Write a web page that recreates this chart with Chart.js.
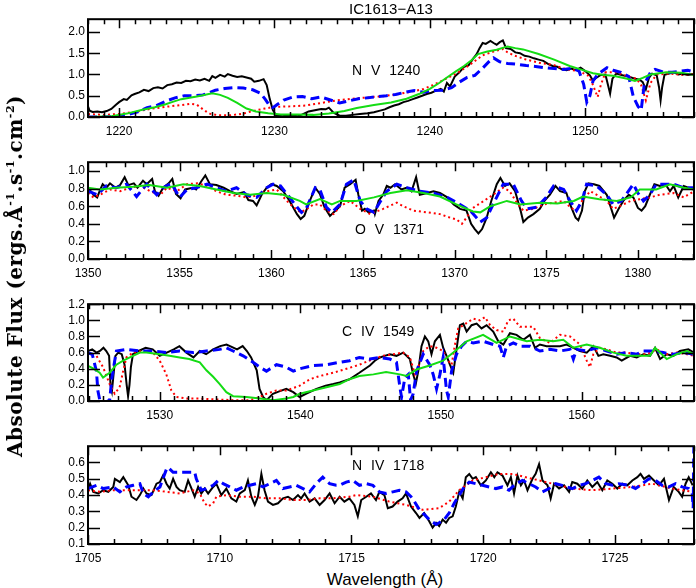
<!DOCTYPE html>
<html>
<head>
<meta charset="utf-8">
<script src="https://cdn.jsdelivr.net/npm/chart.js"></script>
<style>
  body { margin: 0; background: #fff; }
  #wrap { position: relative; width: 696px; height: 588px; overflow: hidden; font-family: "Liberation Sans", Arial, sans-serif; color: #000; }
  canvas { position: absolute; left: 0; }
  .txt { position: absolute; white-space: nowrap; line-height: 1; }
  .ion { font-size: 14px; word-spacing: 5px; transform: translateY(-50%); }
</style>
</head>
<body>
<div id="wrap">
  <canvas id="nv" width="696" height="132" style="top:9px"></canvas>
  <canvas id="ov" width="696" height="131" style="top:152px"></canvas>
  <canvas id="civ" width="696" height="131" style="top:294px"></canvas>
  <canvas id="niv" width="696" height="132" style="top:436px"></canvas>

  <div class="txt" style="left:391px;top:8px;font-size:15px;transform:translate(-50%,-50%)">IC1613&minus;A13</div>
  <div class="txt ion" style="left:352px;top:70px">N V 1240</div>
  <div class="txt ion" style="left:355px;top:229px">O V 1371</div>
  <div class="txt ion" style="left:342px;top:331px">C IV 1549</div>
  <div class="txt ion" style="left:352px;top:465px">N IV 1718</div>
  <div class="txt" style="left:385px;top:579px;font-size:17px;transform:translate(-50%,-50%)">Wavelength (&Aring;)</div>
  <div class="txt" style="left:15px;top:276px;font-family:'DejaVu Serif',serif;font-weight:bold;font-size:20px;letter-spacing:0.5px;transform:translate(-50%,-50%) rotate(-90deg)">Absolute Flux (ergs.&Aring;<sup style="font-size:11px">-1</sup>.s<sup style="font-size:11px">-1</sup>.cm<sup style="font-size:11px">-2</sup>)</div>
</div>

<script>
// ---- N V 1240 panel ----
var nvRange = [1218, 1257];
var nvFluxRange = [0, 2.3];
var nvTicksX = [1220, 1230, 1240, 1250];
var nvTicksY = [0, 0.5, 1.0, 1.5, 2.0];
var nvBlack = [[1218.0,0.25],[1218.1,0.15],[1218.3,0.12],[1218.6,0.13],[1218.9,0.11],[1219.2,0.14],[1219.5,0.19],[1219.8,0.29],[1220.0,0.35],[1220.3,0.42],[1220.5,0.40],[1220.8,0.51],[1221.0,0.54],[1221.3,0.58],[1221.6,0.64],[1221.9,0.61],[1222.2,0.68],[1222.5,0.70],[1222.8,0.67],[1223.1,0.75],[1223.4,0.77],[1223.7,0.81],[1224.0,0.80],[1224.3,0.85],[1224.6,0.84],[1224.9,0.88],[1225.2,0.86],[1225.5,0.90],[1225.8,0.85],[1226.0,0.96],[1226.2,0.92],[1226.5,0.99],[1226.8,0.95],[1227.0,1.01],[1227.3,0.97],[1227.6,0.94],[1227.9,0.96],[1228.2,0.93],[1228.5,0.90],[1228.7,0.83],[1229.0,0.85],[1229.3,0.89],[1229.5,0.75],[1229.7,0.42],[1229.9,0.16],[1230.1,0.04],[1230.5,0.02],[1231.0,0.04],[1231.5,0.02],[1231.8,0.06],[1232.2,0.13],[1232.6,0.16],[1233.0,0.19],[1233.3,0.18],[1233.5,0.22],[1233.8,0.10],[1234.2,0.03],
  [1234.6,0.03],[1235.0,0.05],[1235.5,0.07],[1236.0,0.09],[1236.4,0.11],[1236.8,0.15],[1237.1,0.18],[1237.4,0.23],[1237.7,0.27],[1238.0,0.30],[1238.3,0.35],[1238.6,0.38],[1238.9,0.42],[1239.2,0.46],[1239.5,0.50],[1239.8,0.54],[1240.1,0.57],[1240.4,0.62],[1240.7,0.66],[1240.9,0.60],[1241.1,0.80],[1241.3,0.72],[1241.6,0.95],[1241.9,1.05],[1242.2,1.18],[1242.5,1.22],[1242.8,1.38],[1243.0,1.47],[1243.2,1.62],[1243.4,1.74],[1243.6,1.72],[1243.9,1.79],[1244.1,1.74],[1244.3,1.70],[1244.5,1.76],[1244.7,1.80],[1244.9,1.62],[1245.2,1.60],[1245.5,1.52],[1245.8,1.50],[1246.1,1.44],[1246.4,1.42],[1246.7,1.38],[1247.0,1.35],[1247.3,1.32],[1247.6,1.25],[1247.9,1.20],[1248.2,1.18],[1248.5,1.12],[1248.8,1.10],[1249.1,1.14],[1249.4,1.10],[1249.7,1.16],[1250.0,1.08],[1250.3,0.98],[1250.5,0.85],[1250.7,0.92],[1251.0,0.99],[1251.3,1.00],[1251.5,0.70],[1251.6,0.55],[1251.75,0.90],[1252.0,1.02],[1252.4,0.98],[1252.8,0.95],[1253.2,0.90],[1253.5,0.88],[1253.7,0.82],[1253.9,0.65],[1254.1,0.92],[1254.3,1.02],[1254.6,0.98],[1254.75,0.70],[1254.85,0.39],[1254.95,0.70],[1255.1,0.99],[1255.4,1.02],[1255.7,1.05],[1256.0,1.00],[1256.3,1.02],[1256.6,0.99],[1257.0,1.02]];
var nvBlue = [[1218.0,0.0],[1219.0,0.0],[1220.0,0.01],[1220.6,0.06],[1221.2,0.12],[1221.8,0.22],[1222.4,0.27],[1223.0,0.37],[1223.6,0.45],[1224.2,0.50],[1224.8,0.50],[1225.4,0.52],[1225.8,0.57],[1226.2,0.63],[1226.8,0.67],[1227.4,0.69],[1228.0,0.68],[1228.6,0.64],[1229.1,0.56],[1229.4,0.42],[1229.7,0.26],[1229.9,0.22],[1230.2,0.30],[1230.6,0.40],[1231.2,0.47],[1231.8,0.48],[1232.4,0.43],[1233.0,0.47],[1233.6,0.40],[1234.2,0.33],[1234.8,0.38],[1235.4,0.43],[1236.0,0.45],[1236.6,0.48],[1237.2,0.50],[1237.8,0.53],[1238.4,0.58],[1239.0,0.62],[1239.6,0.58],[1240.2,0.62],[1240.8,0.63],[1241.4,0.69],[1241.9,0.82],[1242.4,0.93],[1242.9,0.98],[1243.4,1.15],[1243.8,1.30],[1244.1,1.39],[1244.5,1.30],[1245.0,1.26],[1245.6,1.24],[1246.2,1.21],[1246.8,1.19],[1247.4,1.16],[1248.0,1.14],[1248.6,1.12],[1249.2,1.15],[1249.6,1.08],[1249.9,0.77],[1250.1,0.35],[1250.3,0.50],[1250.5,0.85],[1250.8,1.00],[1251.4,1.16],[1251.8,1.10],[1252.3,1.05],[1252.8,0.95],[1253.1,0.47],[1253.4,0.25],[1253.6,0.16],[1253.8,0.77],[1254.2,1.05],[1254.5,1.12],[1255.0,1.06],[1255.6,1.05],[1256.2,1.08],[1256.6,1.10],[1257.0,1.06]];
var nvRed = [[1218.0,0.07],[1219.0,0.05],[1220.0,0.07],[1221.0,0.12],[1222.0,0.19],[1223.0,0.24],[1224.0,0.28],[1224.6,0.31],[1225.0,0.29],[1225.4,0.18],[1225.8,0.08],[1226.4,0.04],[1227.2,0.04],[1228.0,0.08],[1228.6,0.14],[1229.4,0.20],[1230.0,0.24],[1231.0,0.25],[1232.0,0.27],[1233.0,0.33],[1234.0,0.39],[1235.0,0.43],[1236.0,0.46],[1237.0,0.49],[1238.0,0.54],[1239.0,0.61],[1239.6,0.66],[1240.2,0.75],[1240.7,0.84],[1241.2,0.93],[1241.7,1.02],[1242.3,1.16],[1242.8,1.29],[1243.4,1.45],[1244.1,1.54],[1244.7,1.60],[1245.0,1.52],[1245.4,1.45],[1246.2,1.35],[1247.1,1.27],[1248.0,1.22],[1248.8,1.12],[1249.6,1.08],[1250.2,0.97],[1250.5,0.75],[1250.8,0.47],[1251.0,0.75],[1251.3,1.05],[1252.0,1.05],[1252.8,0.95],[1253.3,0.90],[1253.6,0.75],[1253.9,0.39],[1254.2,0.80],[1254.6,1.00],[1255.4,1.02],[1256.2,0.99],[1257.0,1.01]];
var nvGreen = [[1218.0,0.0],[1219.5,0.02],[1220.5,0.08],[1221.5,0.17],[1222.3,0.23],[1223.0,0.30],[1223.4,0.35],[1224.0,0.42],[1225.0,0.48],[1226.0,0.56],[1226.5,0.52],[1227.0,0.45],[1227.6,0.33],[1228.2,0.20],[1228.8,0.13],[1229.6,0.09],[1230.4,0.06],[1231.5,0.06],[1232.5,0.05],[1233.5,0.08],[1234.5,0.14],[1235.3,0.21],[1236.4,0.28],[1237.5,0.34],[1238.5,0.43],[1239.3,0.54],[1240.0,0.66],[1240.6,0.80],[1241.1,0.93],[1241.7,1.08],[1242.2,1.20],[1242.7,1.34],[1243.1,1.48],[1243.7,1.54],[1244.3,1.58],[1245.0,1.66],[1245.5,1.62],[1246.0,1.59],[1247.0,1.48],[1248.0,1.35],[1249.0,1.20],[1249.7,1.12],[1250.5,1.03],[1251.2,0.99],[1251.8,0.97],[1252.7,0.90],[1253.2,0.85],[1253.7,0.92],[1254.2,1.00],[1255.2,1.05],[1256.2,1.04],[1257.0,0.99]];

// ---- O V 1371 panel ----
var ovRange = [1350, 1383.06];
var ovFluxRange = [0, 1.1];
var ovTicksX = [1350, 1355, 1360, 1365, 1370, 1375, 1380];
var ovTicksY = [0, 0.2, 0.4, 0.6, 0.8, 1.0];
var ovBlack = [[1350.0,0.81],[1350.3,0.73],[1350.5,0.70],[1350.65,0.78],[1350.8,0.85],[1351.0,0.81],[1351.2,0.86],[1351.5,0.81],[1351.75,0.84],[1352.0,0.93],[1352.2,0.84],[1352.5,0.86],[1352.7,0.81],[1353.0,0.89],[1353.2,0.85],[1353.5,0.91],[1353.65,0.77],[1353.85,0.72],[1354.1,0.81],[1354.4,0.86],[1354.6,0.91],[1354.8,0.74],[1355.05,0.69],[1355.3,0.79],[1355.7,0.81],[1355.9,0.79],[1356.2,0.89],[1356.4,0.95],[1356.65,0.85],[1357.0,0.84],[1357.4,0.81],[1357.75,0.77],[1358.1,0.74],[1358.5,0.76],[1358.75,0.67],[1359.0,0.66],[1359.2,0.61],[1359.5,0.74],[1359.75,0.81],[1360.0,0.85],[1360.3,0.83],[1360.65,0.77],[1361.0,0.66],[1361.4,0.51],[1361.6,0.455],[1361.8,0.49],[1362.1,0.66],[1362.4,0.81],[1362.65,0.74],[1362.9,0.59],[1363.2,0.49],[1363.45,0.54],[1363.75,0.60],
  [1364.0,0.81],[1364.3,0.85],[1364.6,0.90],[1364.75,0.73],[1364.95,0.55],[1365.1,0.57],[1365.3,0.53],[1365.6,0.55],[1365.65,0.51],[1365.85,0.66],[1366.1,0.73],[1366.3,0.83],[1366.5,0.81],[1366.75,0.85],[1367.1,0.79],[1367.4,0.81],[1367.65,0.77],[1367.9,0.93],[1368.1,0.73],[1368.5,0.75],[1368.85,0.77],[1369.2,0.75],[1369.6,0.70],[1369.95,0.62],[1370.3,0.57],[1370.65,0.55],[1370.9,0.40],[1371.1,0.34],[1371.3,0.29],[1371.5,0.34],[1371.75,0.47],[1372.0,0.66],[1372.3,0.85],[1372.5,0.92],[1372.75,0.83],[1373.0,0.86],[1373.3,0.77],[1373.6,0.55],[1373.75,0.42],[1374.0,0.47],[1374.3,0.51],[1374.65,0.57],[1374.9,0.66],[1375.2,0.73],[1375.5,0.83],[1375.75,0.77],[1376.1,0.75],[1376.3,0.62],[1376.6,0.47],[1376.75,0.44],[1376.95,0.55],[1377.1,0.77],[1377.3,0.86],[1377.6,0.85],[1377.9,0.83],[1378.3,0.73],[1378.5,0.60],[1378.7,0.47],[1378.95,0.57],[1379.2,0.66],[1379.5,0.73],[1379.75,0.70],[1380.0,0.58],[1380.2,0.55],[1380.4,0.60],[1380.65,0.73],[1380.9,0.85],[1381.2,0.83],[1381.5,0.85],[1381.75,0.77],[1381.95,0.83],[1382.2,0.70],[1382.5,0.83],[1382.75,0.81],[1383.06,0.79]];
var ovBlue = [[1350.0,0.77],[1350.5,0.73],[1351.0,0.83],[1351.55,0.81],[1352.1,0.85],[1352.65,0.71],[1353.2,0.85],[1353.75,0.73],[1354.1,0.81],[1354.55,0.86],[1355.0,0.70],[1355.4,0.79],[1355.9,0.81],[1356.5,0.85],[1357.0,0.81],[1357.55,0.77],[1358.1,0.81],[1358.65,0.73],[1359.2,0.70],[1359.75,0.81],[1360.1,0.85],[1360.5,0.83],[1361.0,0.70],[1361.4,0.59],[1361.65,0.53],[1361.9,0.57],[1362.4,0.81],[1362.65,0.79],[1363.0,0.59],[1363.3,0.53],[1363.75,0.62],[1364.1,0.85],[1364.5,0.90],[1364.85,0.66],[1365.2,0.57],[1365.6,0.53],[1365.85,0.62],[1366.3,0.77],[1366.85,0.85],[1367.4,0.81],[1368.1,0.77],[1368.85,0.75],[1369.6,0.70],[1370.3,0.62],[1370.85,0.55],[1371.4,0.42],[1371.75,0.47],[1372.1,0.62],[1372.65,0.85],[1373.2,0.85],[1373.65,0.66],[1373.95,0.57],[1374.5,0.59],[1375.0,0.70],[1375.4,0.83],[1375.95,0.79],[1376.3,0.66],[1376.65,0.55],[1376.95,0.66],[1377.2,0.85],[1377.75,0.83],[1378.3,0.73],[1378.65,0.62],[1379.1,0.66],[1379.75,0.85],[1380.0,0.75],[1380.3,0.66],[1380.65,0.73],[1381.0,0.85],[1381.95,0.85],[1382.5,0.81],[1383.06,0.81]];
var ovRed = [[1350.0,0.75],[1350.3,0.70],[1350.65,0.73],[1351.2,0.79],[1351.75,0.77],[1352.3,0.81],[1352.85,0.83],[1353.4,0.77],[1353.95,0.73],[1354.3,0.81],[1354.85,0.77],[1355.4,0.85],[1355.95,0.86],[1356.5,0.83],[1357.0,0.77],[1357.55,0.73],[1358.1,0.72],[1358.65,0.70],[1359.2,0.72],[1359.75,0.77],[1360.3,0.79],[1360.85,0.66],[1361.2,0.59],[1361.6,0.53],[1361.95,0.57],[1362.3,0.62],[1362.65,0.62],[1363.0,0.55],[1363.4,0.51],[1363.75,0.60],[1364.3,0.66],[1364.85,0.57],[1365.4,0.51],[1366.1,0.57],[1366.85,0.64],[1367.2,0.60],[1367.75,0.55],[1368.5,0.53],[1369.2,0.51],[1369.75,0.47],[1370.1,0.45],[1370.4,0.40],[1370.65,0.47],[1371.0,0.58],[1371.6,0.66],[1372.1,0.73],[1372.65,0.81],[1373.0,0.77],[1373.4,0.64],[1373.75,0.55],[1374.3,0.57],[1374.85,0.62],[1375.4,0.64],[1375.95,0.66],[1376.3,0.59],[1376.6,0.55],[1376.95,0.66],[1377.4,0.77],[1377.75,0.73],[1378.3,0.66],[1378.65,0.57],[1379.0,0.60],[1379.6,0.66],[1380.1,0.68],[1380.65,0.70],[1381.2,0.73],[1381.95,0.75],[1382.5,0.70],[1383.06,0.77]];
var ovGreen = [[1350.0,0.81],[1350.65,0.79],[1351.55,0.81],[1352.45,0.82],[1353.35,0.84],[1354.3,0.81],[1355.2,0.85],[1356.1,0.83],[1357.0,0.79],[1357.95,0.75],[1358.85,0.73],[1359.75,0.75],[1360.65,0.73],[1361.55,0.66],[1361.9,0.62],[1362.65,0.68],[1363.3,0.62],[1363.75,0.66],[1364.65,0.66],[1365.6,0.70],[1366.5,0.75],[1367.4,0.78],[1368.3,0.75],[1369.2,0.71],[1370.1,0.62],[1371.0,0.54],[1371.4,0.53],[1371.95,0.60],[1372.85,0.66],[1373.6,0.62],[1374.65,0.64],[1375.6,0.63],[1376.5,0.66],[1377.0,0.71],[1377.9,0.68],[1378.85,0.66],[1379.6,0.70],[1380.1,0.79],[1381.0,0.79],[1381.75,0.85],[1382.5,0.81],[1383.06,0.79]];

// ---- C IV 1549 panel ----
var civRange = [1524.9, 1568.0];
var civFluxRange = [0, 1.2];
var civTicksX = [1530, 1540, 1550, 1560];
var civTicksY = [0, 0.2, 0.4, 0.6, 0.8, 1.0, 1.2];
var civBlack = [[1524.9,0.62],[1525.2,0.64],[1525.5,0.60],[1525.75,0.62],[1526.0,0.66],[1526.2,0.62],[1526.4,0.56],[1526.5,0.20],[1526.6,0.12],[1526.7,0.30],[1526.85,0.56],[1527.05,0.60],[1527.3,0.58],[1527.5,0.45],[1527.65,0.20],[1527.75,0.06],[1527.85,0.20],[1527.95,0.42],[1528.1,0.58],[1528.5,0.62],[1529.0,0.66],[1529.5,0.64],[1530.0,0.56],[1530.5,0.60],[1531.0,0.64],[1531.4,0.68],[1531.9,0.60],[1532.4,0.54],[1532.85,0.62],[1533.3,0.58],[1533.8,0.64],[1534.3,0.68],[1534.75,0.70],[1535.0,0.68],[1535.5,0.64],[1535.9,0.68],[1536.2,0.62],[1536.5,0.54],[1536.9,0.38],[1537.1,0.15],[1537.35,0.05],[1537.6,0.01],[1538.05,0.09],[1538.5,0.12],[1539.0,0.15],[1539.5,0.11],[1539.95,0.05],[1540.4,0.09],[1541.15,0.15],[1541.8,0.19],[1542.35,0.21],[1542.8,0.23],[1543.5,0.27],
  [1544.2,0.35],[1544.95,0.44],[1545.3,0.50],[1545.66,0.54],[1546.0,0.56],[1546.37,0.58],[1546.84,0.56],[1547.32,0.60],[1547.79,0.52],[1548.03,0.33],[1548.22,0.22],[1548.39,0.37],[1548.62,0.68],[1548.86,0.80],[1549.1,0.74],[1549.33,0.58],[1549.57,0.74],[1549.93,0.82],[1550.16,0.66],[1550.4,0.56],[1550.64,0.45],[1550.88,0.35],[1551.11,0.64],[1551.35,0.94],[1551.59,0.96],[1551.83,0.86],[1552.18,0.94],[1552.54,0.96],[1552.89,0.90],[1553.25,0.94],[1553.72,0.86],[1554.08,0.74],[1554.44,0.70],[1554.91,0.84],[1555.38,0.82],[1555.86,0.76],[1556.33,0.82],[1556.69,0.66],[1557.04,0.70],[1557.52,0.68],[1557.99,0.68],[1558.47,0.68],[1558.94,0.70],[1559.42,0.66],[1559.89,0.62],[1560.37,0.60],[1560.84,0.68],[1561.2,0.56],[1561.55,0.58],[1562.03,0.56],[1562.5,0.54],[1562.86,0.50],[1563.45,0.56],[1563.93,0.54],[1564.4,0.58],[1564.87,0.56],[1565.23,0.66],[1565.59,0.52],[1566.06,0.58],[1566.53,0.56],[1567.0,0.62],[1567.6,0.64],[1568.0,0.60]];
var civBlue = [[1524.85,0.60],[1525.2,0.58],[1525.5,0.37],[1525.6,0.13],[1525.75,0.0],[1526.1,-0.02],[1526.44,0.01],[1526.6,0.29],[1526.8,0.50],[1526.92,0.62],[1527.63,0.64],[1528.58,0.62],[1529.53,0.62],[1530.47,0.60],[1531.42,0.62],[1532.37,0.60],[1533.32,0.62],[1534.27,0.64],[1534.74,0.66],[1535.22,0.62],[1535.93,0.56],[1536.64,0.48],[1537.12,0.42],[1537.59,0.37],[1538.3,0.45],[1539.0,0.42],[1539.5,0.37],[1539.96,0.40],[1540.9,0.44],[1541.86,0.45],[1542.8,0.48],[1543.5,0.50],[1544.2,0.54],[1544.95,0.52],[1545.66,0.54],[1546.37,0.52],[1546.84,0.48],[1547.1,0.15],[1547.2,0.05],[1547.44,0.29],[1547.68,0.33],[1547.84,0.01],[1548.03,0.09],[1548.27,0.37],[1548.74,0.58],[1549.2,0.45],[1549.45,0.33],[1549.69,0.15],[1549.93,0.33],[1550.16,0.54],[1550.4,0.13],[1550.52,0.05],[1550.76,0.37],[1551.11,0.58],[1551.47,0.68],[1551.83,0.74],[1552.3,0.72],[1553.0,0.74],[1553.72,0.70],[1554.2,0.68],[1554.44,0.54],[1554.67,0.68],[1555.15,0.72],[1555.62,0.68],[1556.33,0.68],[1557.04,0.62],[1557.75,0.64],[1558.47,0.62],[1559.18,0.64],[1559.42,0.52],[1559.65,0.64],[1560.37,0.62],[1561.08,0.66],[1561.8,0.62],[1562.5,0.58],[1563.2,0.60],[1563.93,0.58],[1564.4,0.62],[1565.1,0.62],[1565.8,0.60],[1566.53,0.58],[1567.25,0.60],[1568.0,0.58]];
var civRed = [[1524.85,0.60],[1525.5,0.56],[1525.97,0.42],[1526.44,0.21],[1526.8,0.09],[1527.15,0.17],[1527.4,0.37],[1527.63,0.54],[1528.1,0.60],[1528.8,0.62],[1529.53,0.60],[1530.0,0.50],[1530.47,0.33],[1530.83,0.13],[1531.19,0.05],[1531.9,0.03],[1532.85,0.03],[1534.03,0.02],[1535.22,0.01],[1536.4,0.01],[1537.12,0.05],[1537.59,0.09],[1538.3,0.13],[1539.0,0.13],[1539.96,0.19],[1540.68,0.27],[1541.39,0.31],[1542.34,0.35],[1543.29,0.40],[1544.2,0.45],[1545.2,0.52],[1545.9,0.56],[1546.6,0.58],[1547.3,0.60],[1547.8,0.54],[1548.15,0.33],[1548.39,0.42],[1548.74,0.62],[1549.2,0.68],[1549.69,0.66],[1550.16,0.62],[1550.52,0.50],[1550.76,0.45],[1551.0,0.70],[1551.23,0.90],[1551.59,0.94],[1551.95,0.98],[1552.3,1.02],[1552.77,1.00],[1553.13,1.04],[1553.5,0.94],[1553.96,0.88],[1554.44,0.86],[1554.79,1.00],[1555.15,1.02],[1555.62,0.92],[1556.1,0.92],[1556.57,0.92],[1557.04,0.78],[1557.75,0.72],[1558.47,0.82],[1559.18,0.80],[1559.89,0.70],[1560.37,0.50],[1560.6,0.42],[1560.84,0.58],[1561.3,0.66],[1561.8,0.64],[1562.5,0.60],[1563.2,0.60],[1563.93,0.58],[1564.64,0.58],[1565.35,0.64],[1566.06,0.58],[1566.77,0.60],[1567.5,0.58],[1568.0,0.56]];
var civGreen = [[1524.85,0.44],[1525.3,0.40],[1525.73,0.35],[1525.97,0.29],[1526.44,0.35],[1526.92,0.45],[1527.4,0.50],[1528.1,0.56],[1528.6,0.60],[1529.05,0.60],[1530.0,0.58],[1530.7,0.56],[1531.42,0.54],[1532.1,0.52],[1532.85,0.48],[1533.32,0.38],[1533.8,0.30],[1534.27,0.21],[1534.74,0.11],[1535.22,0.06],[1536.17,0.05],[1537.12,0.03],[1538.07,0.01],[1539.0,0.03],[1539.5,0.05],[1539.96,0.09],[1540.9,0.13],[1541.86,0.17],[1542.8,0.21],[1543.5,0.27],[1544.2,0.31],[1545.2,0.33],[1546.1,0.36],[1547.08,0.33],[1547.55,0.31],[1548.27,0.39],[1549.2,0.44],[1550.16,0.50],[1550.88,0.60],[1551.83,0.74],[1553.0,0.82],[1553.96,0.72],[1554.91,0.80],[1556.1,0.74],[1557.04,0.76],[1557.99,0.74],[1558.7,0.76],[1559.42,0.66],[1560.37,0.70],[1561.3,0.66],[1562.27,0.60],[1563.2,0.56],[1564.17,0.56],[1564.87,0.56],[1565.23,0.66],[1566.06,0.52],[1566.77,0.58],[1567.5,0.62],[1568.0,0.58]];

// ---- N IV 1718 panel ----
var nivRange = [1705, 1728];
var nivFluxRange = [0.1, 0.7];
var nivTicksX = [1705, 1710, 1715, 1720, 1725];
var nivTicksY = [0.1, 0.2, 0.3, 0.4, 0.5, 0.6];
var nivBlack = [[1705.0,0.43],[1705.08,0.47],[1705.2,0.42],[1705.39,0.41],[1705.58,0.43],[1705.77,0.42],[1705.96,0.45],[1706.02,0.50],[1706.21,0.48],[1706.34,0.51],[1706.53,0.46],[1706.65,0.39],[1706.84,0.37],[1706.97,0.40],[1707.1,0.44],[1707.22,0.41],[1707.41,0.40],[1707.6,0.47],[1707.73,0.48],[1707.85,0.52],[1707.98,0.47],[1708.1,0.44],[1708.23,0.50],[1708.36,0.45],[1708.48,0.43],[1708.67,0.42],[1708.8,0.49],[1708.93,0.44],[1709.05,0.39],[1709.18,0.45],[1709.3,0.41],[1709.43,0.44],[1709.56,0.41],[1709.75,0.45],[1709.87,0.47],[1710.06,0.40],[1710.25,0.44],[1710.44,0.38],[1710.63,0.36],[1710.76,0.41],[1710.95,0.43],[1711.07,0.49],[1711.2,0.39],[1711.33,0.34],[1711.45,0.39],[1711.58,0.53],[1711.7,0.43],[1711.83,0.36],[1712.02,0.34],[1712.21,0.35],[1712.4,0.38],[1712.59,0.39],[1712.78,0.37],[1712.97,0.40],[1713.09,0.38],[1713.22,0.41],[1713.41,0.36],[1713.6,0.38],[1713.79,0.34],[1713.98,0.37],[1714.17,0.41],[1714.36,0.35],[1714.55,0.39],[1714.73,0.36],[1714.92,0.38],
  [1715.11,0.34],[1715.24,0.27],[1715.37,0.37],[1715.56,0.39],[1715.74,0.41],[1715.93,0.37],[1716.06,0.42],[1716.25,0.40],[1716.38,0.32],[1716.56,0.33],[1716.75,0.36],[1716.94,0.38],[1717.07,0.41],[1717.26,0.33],[1717.45,0.29],[1717.58,0.26],[1717.76,0.29],[1717.95,0.24],[1718.08,0.20],[1718.21,0.23],[1718.33,0.21],[1718.46,0.25],[1718.59,0.23],[1718.71,0.26],[1718.84,0.27],[1718.96,0.33],[1719.09,0.42],[1719.22,0.38],[1719.34,0.51],[1719.47,0.53],[1719.6,0.50],[1719.72,0.51],[1719.91,0.46],[1720.1,0.49],[1720.29,0.54],[1720.42,0.51],[1720.54,0.54],[1720.73,0.52],[1720.92,0.46],[1721.05,0.51],[1721.17,0.41],[1721.3,0.52],[1721.43,0.46],[1721.55,0.49],[1721.68,0.43],[1721.87,0.50],[1721.99,0.53],[1722.12,0.59],[1722.25,0.49],[1722.44,0.46],[1722.56,0.38],[1722.69,0.47],[1722.88,0.44],[1723.07,0.46],[1723.26,0.42],[1723.38,0.48],[1723.57,0.47],[1723.76,0.44],[1723.95,0.49],[1724.14,0.45],[1724.33,0.48],[1724.52,0.43],[1724.71,0.49],[1724.9,0.47],[1725.09,0.44],[1725.28,0.47],[1725.47,0.46],[1725.66,0.49],[1725.85,0.51],[1725.97,0.53],[1726.1,0.50],[1726.29,0.52],[1726.48,0.49],[1726.67,0.46],[1726.86,0.50],[1727.05,0.37],[1727.23,0.45],[1727.42,0.42],[1727.55,0.39],[1727.68,0.47],[1727.8,0.51],[1727.95,0.46]];
var nivBlue = [[1705.0,0.44],[1705.33,0.46],[1705.58,0.44],[1705.96,0.45],[1706.21,0.42],[1706.46,0.45],[1706.72,0.46],[1706.97,0.47],[1707.1,0.41],[1707.29,0.39],[1707.48,0.42],[1707.73,0.45],[1707.98,0.56],[1708.04,0.57],[1708.23,0.54],[1708.36,0.54],[1708.6,0.54],[1708.86,0.54],[1709.05,0.54],[1709.11,0.50],[1709.3,0.43],[1709.49,0.44],[1709.75,0.46],[1709.94,0.49],[1710.13,0.47],[1710.38,0.45],[1710.63,0.43],[1710.89,0.45],[1711.14,0.46],[1711.39,0.47],[1711.64,0.45],[1711.9,0.47],[1712.15,0.49],[1712.4,0.44],[1712.65,0.45],[1712.9,0.46],[1713.16,0.44],[1713.41,0.42],[1713.66,0.47],[1713.91,0.51],[1714.17,0.47],[1714.42,0.46],[1714.55,0.46],[1714.8,0.48],[1715.05,0.49],[1715.3,0.46],[1715.56,0.47],[1715.81,0.46],[1716.06,0.42],[1716.31,0.41],[1716.57,0.42],[1716.82,0.43],[1717.07,0.42],[1717.26,0.39],[1717.39,0.36],[1717.58,0.31],[1717.77,0.28],[1717.95,0.25],[1718.21,0.22],[1718.33,0.23],[1718.52,0.25],[1718.71,0.29],[1718.9,0.35],[1719.09,0.40],[1719.28,0.45],[1719.47,0.48],[1719.72,0.47],[1719.97,0.46],[1720.23,0.45],[1720.48,0.44],[1720.73,0.45],[1720.98,0.43],[1721.24,0.47],[1721.49,0.49],[1721.74,0.47],[1721.99,0.45],[1722.25,0.42],[1722.5,0.44],[1722.75,0.47],[1723.0,0.46],[1723.38,0.44],[1723.64,0.46],[1723.89,0.47],[1724.14,0.49],[1724.39,0.51],[1724.65,0.47],[1724.9,0.46],[1725.15,0.47],[1725.53,0.46],[1725.78,0.44],[1726.04,0.47],[1726.29,0.50],[1726.54,0.49],[1726.79,0.46],[1727.05,0.45],[1727.3,0.47],[1727.55,0.45],[1727.8,0.44],[1727.93,0.41],[1727.97,0.32],[1728.0,0.80]];
var nivRed = [[1705.0,0.43],[1705.45,0.42],[1705.96,0.43],[1706.46,0.43],[1706.97,0.43],[1707.48,0.43],[1707.98,0.42],[1708.48,0.41],[1708.99,0.43],[1709.24,0.41],[1709.43,0.35],[1709.56,0.33],[1709.75,0.35],[1709.87,0.39],[1710.25,0.40],[1710.76,0.39],[1711.26,0.39],[1711.77,0.38],[1712.27,0.38],[1712.78,0.37],[1713.28,0.37],[1713.79,0.38],[1714.29,0.38],[1714.92,0.39],[1715.18,0.40],[1715.81,0.39],[1716.44,0.36],[1717.07,0.34],[1717.7,0.31],[1718.33,0.32],[1718.71,0.36],[1719.09,0.43],[1719.6,0.49],[1720.1,0.51],[1720.6,0.53],[1721.11,0.53],[1721.61,0.51],[1722.12,0.49],[1722.63,0.47],[1723.38,0.44],[1724.14,0.43],[1724.9,0.44],[1725.66,0.45],[1726.42,0.47],[1727.17,0.44],[1727.95,0.42]];

var lineStyles = {
  black: { color: '#000000', width: 2, dash: [], order: 3 },
  red: { color: '#ff0000', width: 2, dash: [2, 3], order: 2 },
  blue: { color: '#0000ff', width: 3, dash: [9, 5], order: 1 },
  green: { color: '#14dc14', width: 2, dash: [], order: 0 }
};
var tickFont = { family: '"Liberation Sans", Arial, sans-serif', size: 12 };

// box round the plot with inward ticks, like the IDL frame
function makeFrame(xTicks, yTicks) {
  return {
    id: 'idlFrame',
    afterDraw: function (chart) {
      var ctx = chart.ctx, a = chart.chartArea;
      var xs = chart.scales.x, ys = chart.scales.y;
      ctx.save();
      ctx.strokeStyle = '#000';
      ctx.lineWidth = 1.5;
      ctx.beginPath();
      for (var v = Math.ceil(xs.min); v <= Math.floor(xs.max); v++) {
        var px = Math.round(xs.getPixelForValue(v)) + 0.5;
        var len = xTicks.indexOf(v) >= 0 ? 9 : 5;
        ctx.moveTo(px, a.bottom); ctx.lineTo(px, a.bottom - len);
        ctx.moveTo(px, a.top); ctx.lineTo(px, a.top + len);
      }
      yTicks.forEach(function (t) {
        var py = Math.round(ys.getPixelForValue(t)) + 0.5;
        ctx.moveTo(a.left, py); ctx.lineTo(a.left + 12, py);
        ctx.moveTo(a.right, py); ctx.lineTo(a.right - 12, py);
      });
      ctx.stroke();
      ctx.lineWidth = 2;
      ctx.strokeRect(a.left, a.top, a.right - a.left, a.bottom - a.top);
      ctx.restore();
    }
  };
}

function drawPanel(id, series, xRange, yRange, xTicks, yTicks) {
  var datasets = series.map(function (s) {
    var st = lineStyles[s.style];
    return {
      label: s.style,
      data: s.pts.map(function (p) { return { x: p[0], y: p[1] }; }),
      borderColor: st.color,
      borderWidth: st.width,
      borderDash: st.dash,
      order: st.order,
      pointRadius: 0,
      tension: 0,
      fill: false,
      clip: 0
    };
  });

  new Chart(document.getElementById(id), {
    type: 'line',
    data: { datasets: datasets },
    options: {
      responsive: false,
      animation: false,
      devicePixelRatio: 1,
      layout: { padding: { top: 8, right: 2, left: 0, bottom: 0 } },
      plugins: { legend: { display: false }, tooltip: { enabled: false } },
      scales: {
        x: {
          type: 'linear',
          min: xRange[0],
          max: xRange[1],
          grid: { display: false, drawTicks: false },
          border: { display: false },
          afterBuildTicks: function (s) { s.ticks = xTicks.map(function (v) { return { value: v }; }); },
          afterFit: function (s) { s.height = 24; },
          ticks: {
            padding: 7, color: '#000', font: tickFont, maxRotation: 0, autoSkip: false,
            callback: function (v) { return String(v); }
          }
        },
        y: {
          type: 'linear',
          min: yRange[0],
          max: yRange[1],
          grid: { display: false, drawTicks: false },
          border: { display: false },
          afterBuildTicks: function (s) { s.ticks = yTicks.map(function (v) { return { value: v }; }); },
          afterFit: function (s) { s.width = 88; },
          ticks: {
            padding: 3, color: '#000', font: tickFont, autoSkip: false,
            callback: function (v) { return v.toFixed(1); }
          }
        }
      }
    },
    plugins: [makeFrame(xTicks, yTicks)]
  });
}

drawPanel('nv', [
  { style: 'black', pts: nvBlack }, { style: 'blue', pts: nvBlue },
  { style: 'red', pts: nvRed }, { style: 'green', pts: nvGreen }
], nvRange, nvFluxRange, nvTicksX, nvTicksY);

drawPanel('ov', [
  { style: 'black', pts: ovBlack }, { style: 'blue', pts: ovBlue },
  { style: 'red', pts: ovRed }, { style: 'green', pts: ovGreen }
], ovRange, ovFluxRange, ovTicksX, ovTicksY);

drawPanel('civ', [
  { style: 'black', pts: civBlack }, { style: 'blue', pts: civBlue },
  { style: 'red', pts: civRed }, { style: 'green', pts: civGreen }
], civRange, civFluxRange, civTicksX, civTicksY);

drawPanel('niv', [
  { style: 'black', pts: nivBlack }, { style: 'blue', pts: nivBlue },
  { style: 'red', pts: nivRed }
], nivRange, nivFluxRange, nivTicksX, nivTicksY);
</script>
</body>
</html>
